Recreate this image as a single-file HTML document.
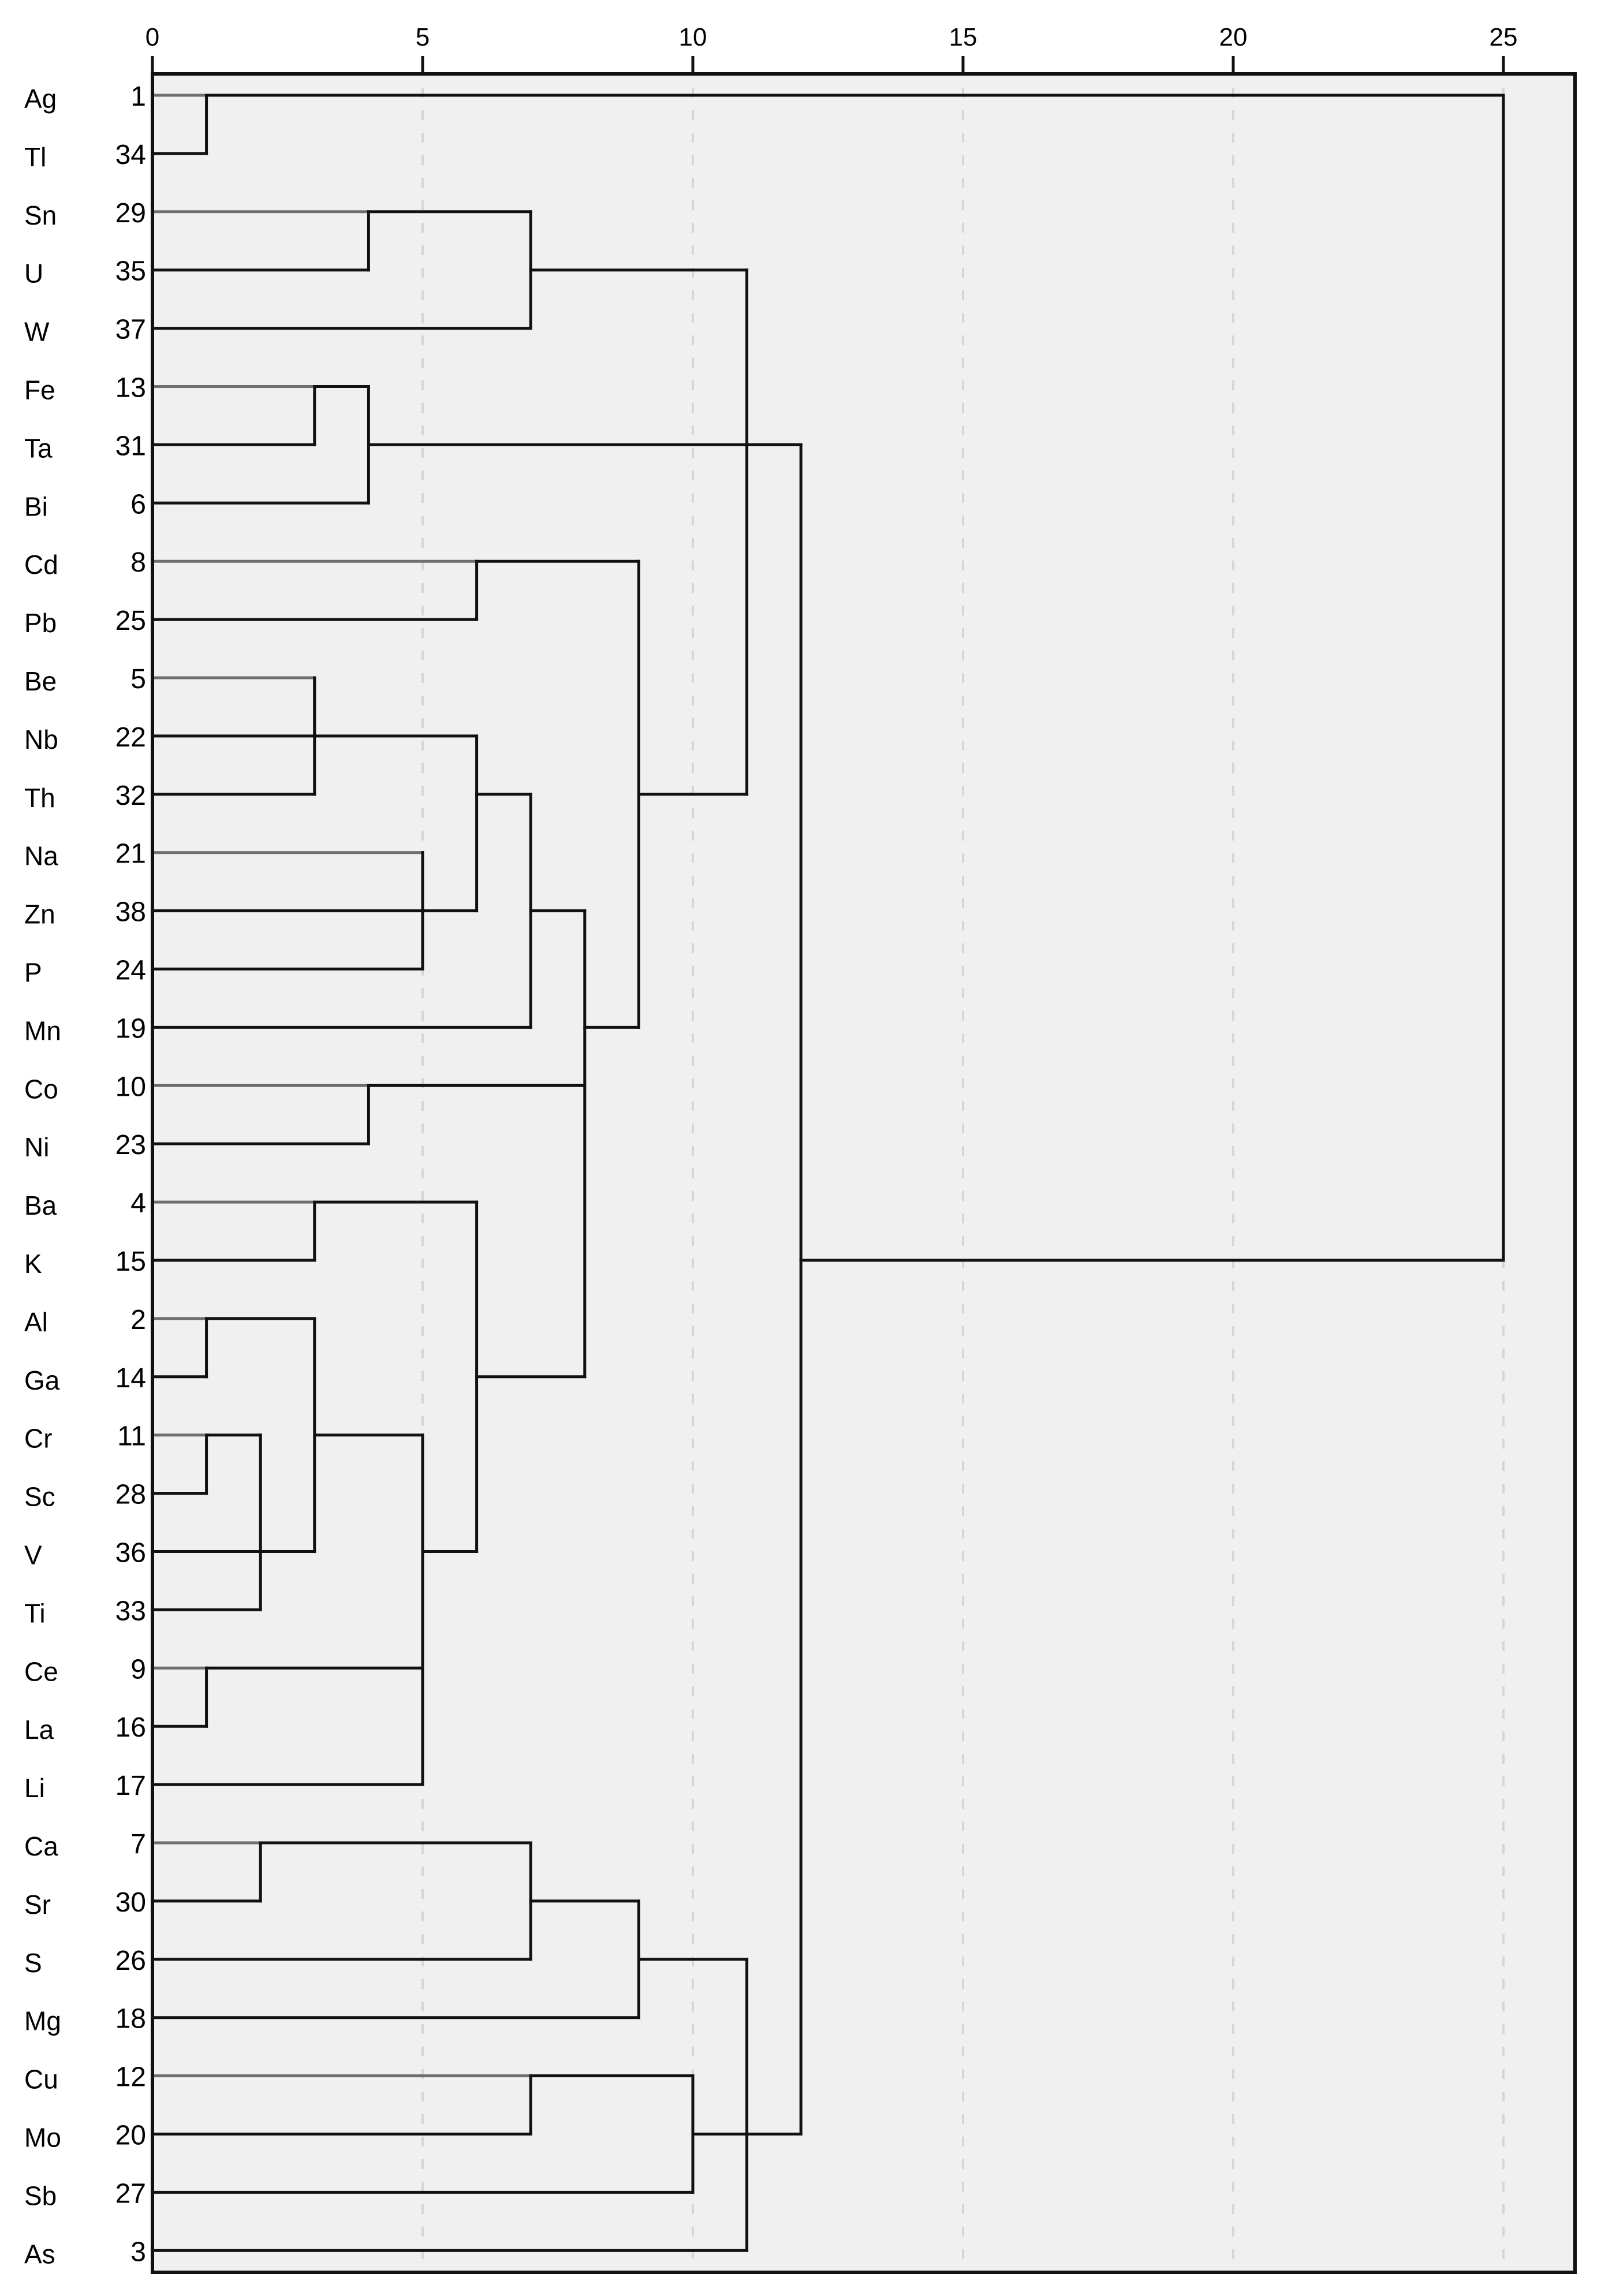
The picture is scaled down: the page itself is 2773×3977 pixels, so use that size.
<!DOCTYPE html>
<html>
<head>
<meta charset="utf-8">
<style>
  html,body{margin:0;padding:0;background:#fff;}
  svg{display:block;}
  text{font-family:"Liberation Sans",sans-serif;fill:#000;}
</style>
</head>
<body>
<svg id="chart" width="2773" height="3977" viewBox="0 0 2773 3977" xmlns="http://www.w3.org/2000/svg">
  <rect x="264" y="128" width="2464" height="3808" fill="#f0f0f0"/>
  <g id="grid"></g>
  <g id="tree"></g>
  <g id="frame"></g>
  <g id="xaxis"></g>
  <g id="labels"></g>
</svg>
<script>
// ---- data ----
const leafNames = ["Ag","Tl","Sn","U","W","Fe","Ta","Bi","Cd","Pb","Be","Nb","Th","Na","Zn","P","Mn","Co","Ni","Ba","K","Al","Ga","Cr","Sc","V","Ti","Ce","La","Li","Ca","Sr","S","Mg","Cu","Mo","Sb","As"];
const leafIds = ["1","34","29","35","37","13","31","6","8","25","5","22","32","21","38","24","19","10","23","4","15","2","14","11","28","36","33","9","16","17","7","30","26","18","12","20","27","3"];
const tickValues = [0,5,10,15,20,25];
const tickLabels = ["0","5","10","15","20","25"];
// merge nodes: children ("L#" = leaf index, "N#" = node index), heights, and row where node line continues
const mergeChildren = [
  ["L0","L1"],["L2","L3"],["N1","L4"],["L5","L6"],["N3","L7"],["L8","L9"],
  ["L10","L11"],["N6","L12"],["L13","L14"],["N8","L15"],["N7","N9"],["N10","L16"],
  ["L17","L18"],["L19","L20"],["L21","L22"],["L23","L24"],["N15","L26"],["N14","N16","L25"],
  ["L27","L28"],["N17","N18","L29"],["N13","N19"],["N11","N12","N20"],["N5","N21"],["N2","N22"],
  ["L30","L31"],["N24","L32"],["N25","L33"],["L34","L35"],["N27","L36"],["N26","N28","L37"],
  ["N4","N23","N29"],["N0","N30"]
];
const mergeHeights = [1,4,7,3,4,6,3,3,5,5,6,7,4,3,1,1,2,3,1,5,6,8,9,11,2,7,9,7,10,11,12,25];
const mergeRows = [0,2,3,5,6,8,10,11,13,14,12,14,17,19,21,23,25,23,27,25,22,16,12,6,30,31,32,34,35,35,20,20];

// ---- scales ----
const X0 = 264, UNIT = 93.6, Y0 = 165, ROW = 100.9;
const xs = v => X0 + v * UNIT;
const ys = r => Y0 + r * ROW;
const NS = "http://www.w3.org/2000/svg";
function mk(tag, parent){ const e = document.createElementNS(NS, tag); parent.appendChild(e); return e; }

// grid
const grid = document.getElementById('grid');
tickValues.forEach((v,i) => {
  if (v === 0) return;
  const l = mk('line', grid);
  
  
  l.setAttribute('x1', xs(v)); l.setAttribute('x2', xs(v));
  l.setAttribute('y1', 152); l.setAttribute('y2', 3934);
  l.setAttribute('stroke', '#d6d6d6'); l.setAttribute('stroke-width', 4);
  l.setAttribute('stroke-dasharray', '17 22');
});

// tree
const tree = document.getElementById('tree');
function info(ref){
  const k = +ref.slice(1);
  if (ref[0] === 'L') return {h:0, row:k, leaf:true};
  return {h:mergeHeights[k], row:mergeRows[k], leaf:false};
}
function seg(x1,y1,x2,y2,color,name){
  const l = mk('line', tree);
  
  
  l.setAttribute('x1', x1); l.setAttribute('y1', y1);
  l.setAttribute('x2', x2); l.setAttribute('y2', y2);
  l.setAttribute('stroke', color); l.setAttribute('stroke-width', 5);
  l.setAttribute('stroke-linecap', 'square');
}
mergeChildren.forEach((ch, n) => {
  const h = mergeHeights[n];
  const rows = ch.map(c => info(c).row);
  seg(xs(h), ys(Math.min(...rows)), xs(h), ys(Math.max(...rows)), '#111', 'merge-vertical-' + n);
  ch.forEach((c, j) => {
    const inf = info(c);
    const col = (inf.leaf && j === 0) ? '#6e6e6e' : '#111';
    seg(xs(inf.h), ys(inf.row), xs(h), ys(inf.row), col, 'merge-branch-' + n + '-' + j);
  });
});

// frame
const frame = document.getElementById('frame');
const fr = mk('rect', frame);


fr.setAttribute('x', 264); fr.setAttribute('y', 128);
fr.setAttribute('width', 2464); fr.setAttribute('height', 3808);
fr.setAttribute('fill', 'none'); fr.setAttribute('stroke', '#111'); fr.setAttribute('stroke-width', 6);

// x axis ticks
const xaxis = document.getElementById('xaxis');
tickValues.forEach((v,i) => {
  const t = mk('line', xaxis);
  
  
  t.setAttribute('x1', xs(v)); t.setAttribute('x2', xs(v));
  t.setAttribute('y1', 97); t.setAttribute('y2', 128);
  t.setAttribute('stroke', '#111'); t.setAttribute('stroke-width', 5);
  const tx = mk('text', xaxis);
  
  
  tx.setAttribute('x', xs(v)); tx.setAttribute('y', 79);
  tx.setAttribute('font-size', 44);
  tx.setAttribute('text-anchor', 'middle');
  tx.textContent = tickLabels[i];
});

// leaf labels
const labels = document.getElementById('labels');
leafNames.forEach((nm, i) => {
  const a = mk('text', labels);
  
  
  a.setAttribute('x', 42); a.setAttribute('y', ys(i) + 22);
  a.setAttribute('font-size', 46);
  a.textContent = nm;
  const b = mk('text', labels);
  
  
  b.setAttribute('x', 253); b.setAttribute('y', ys(i) + 18);
  b.setAttribute('font-size', 48);
  b.setAttribute('text-anchor', 'end');
  b.textContent = leafIds[i];
});
</script>
</body>
</html>
